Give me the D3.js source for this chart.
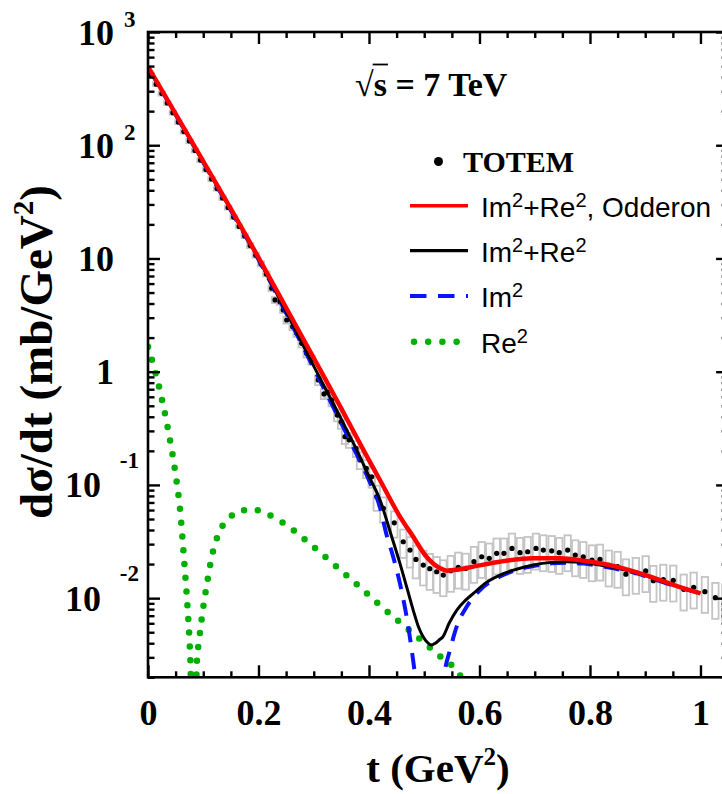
<!DOCTYPE html>
<html><head><meta charset="utf-8">
<script src="https://cdn.jsdelivr.net/npm/d3@7"></script>
<style>body{margin:0;background:#fff}svg{display:block}</style>
</head><body>
<svg id="chart" width="722" height="794"></svg>
<script>
// ---------- data ----------
const xMajorTicks = [0, 0.2, 0.4, 0.6, 0.8, 1.0];
const xTickLabels = ["0", "0.2", "0.4", "0.6", "0.8", "1"];
const yTickValues = [1000, 100, 10, 1, 0.1, 0.01];
const yTickBase = ["10", "10", "10", "1", "10", "10"];
const yTickExp = ["3", "2", "", "", "-1", "-2"];

// Im^2+Re^2 with Odderon (red)
const tRed = [0, 0.05, 0.1, 0.15, 0.2, 0.25, 0.3, 0.35, 0.39, 0.42, 0.456, 0.48, 0.504, 0.5285, 0.541, 0.559, 0.589, 0.637, 0.697, 0.746, 0.788, 0.848, 0.909, 0.951, 1.0];
const vRed = [495, 189, 72, 27.4, 10.2, 3.67, 1.32, 0.472, 0.203, 0.110, 0.0525, 0.0349, 0.0232, 0.0184, 0.0175, 0.0178, 0.019, 0.021, 0.0225, 0.0225, 0.0214, 0.019, 0.0155, 0.0131, 0.0110];

// Im^2+Re^2 (black)
const tBlack = [0, 0.05, 0.1, 0.15, 0.2, 0.25, 0.3, 0.35, 0.378, 0.40, 0.42, 0.44, 0.456, 0.47, 0.48, 0.49, 0.498, 0.505, 0.513, 0.52, 0.527, 0.534, 0.545, 0.559, 0.574, 0.589, 0.61, 0.637, 0.667, 0.697, 0.73, 0.758, 0.788, 0.818, 0.848, 0.88, 0.909, 0.951, 1.0];
const vBlack = [495, 187, 71, 27, 9.9, 3.39, 1.12, 0.38, 0.203, 0.119, 0.0736, 0.0363, 0.0203, 0.0117, 0.00785, 0.0055, 0.00457, 0.0041, 0.00385, 0.0040, 0.00427, 0.00457, 0.006, 0.00785, 0.0095, 0.0110, 0.0135, 0.016, 0.018, 0.0196, 0.0207, 0.021, 0.0207, 0.0196, 0.0184, 0.0170, 0.0153, 0.0130, 0.0111];

// Im^2 (blue dashed)
const tBlue = [0, 0.05, 0.1, 0.15, 0.2, 0.25, 0.3, 0.35, 0.378, 0.40, 0.42, 0.432, 0.444, 0.456, 0.468, 0.48, 0.49, 0.50, 0.51, 0.52, 0.53, 0.5376, 0.5466, 0.5587, 0.5768, 0.601, 0.637, 0.667, 0.697, 0.73, 0.758, 0.788, 0.818, 0.848, 0.88, 0.909, 0.951, 1.0];
const vBlue = [493, 186, 70.5, 26.5, 9.8, 3.3, 1.07, 0.35, 0.185, 0.110, 0.063, 0.036, 0.023, 0.0135, 0.0069, 0.0028, 0.0011, 0.00025, 0.000001, 0.00028, 0.0012, 0.00232, 0.00348, 0.0056, 0.0084, 0.0118, 0.0155, 0.0178, 0.0192, 0.0203, 0.0205, 0.0202, 0.0193, 0.0181, 0.0168, 0.0151, 0.0129, 0.0110];

// Re^2 (green dotted)
const tGreen = [0, 0.0205, 0.0362, 0.0489, 0.0585, 0.0664, 0.0719, 0.076, 0.0773, 0.0825, 0.0881, 0.0929, 0.099, 0.1068, 0.1158, 0.1316, 0.1466, 0.167, 0.1931, 0.2166, 0.2395, 0.2606, 0.2992, 0.3379, 0.3759, 0.4139, 0.4525, 0.4905, 0.5298, 0.5497, 0.568, 0.6];
const vGreen = [1.66, 0.718, 0.310, 0.134, 0.0573, 0.0186, 0.00785, 0.00337, 0.00218, 0.0000001, 0.00252, 0.00439, 0.00766, 0.0135, 0.0237, 0.0406, 0.0507, 0.0592, 0.0601, 0.055, 0.048, 0.0408, 0.0285, 0.0196, 0.0135, 0.00919, 0.00632, 0.00442, 0.00304, 0.00256, 0.0020, 0.0015];

// TOTEM data
const tData = [0.005, 0.015, 0.025, 0.035, 0.045, 0.055, 0.065, 0.075, 0.085, 0.095, 0.105, 0.115, 0.125, 0.135, 0.145, 0.155, 0.165, 0.175, 0.185, 0.195,
  0.2045, 0.2142, 0.2239, 0.2299, 0.2389, 0.2449, 0.251, 0.2619, 0.2691, 0.2782, 0.2872, 0.2963, 0.3082, 0.3186, 0.3245, 0.3325, 0.3426, 0.3495, 0.3566, 0.364, 0.3765, 0.3837, 0.395, 0.4049,
  0.414, 0.426, 0.4458, 0.462, 0.4742, 0.485, 0.4983, 0.51, 0.5225, 0.5345, 0.548, 0.5616, 0.575, 0.590, 0.604, 0.6177, 0.6311, 0.6443, 0.6588, 0.6733, 0.6872, 0.7023, 0.7155, 0.7307, 0.7444, 0.7596, 0.7734, 0.7879, 0.8036, 0.8181, 0.834, 0.850, 0.865, 0.883, 0.9008, 0.9146, 0.9327, 0.9508, 0.9696, 0.9877, 1.008, 1.027, 1.045];
const vData = [420, 346, 286, 236, 194, 160, 132, 109, 89.8, 74.0, 61.0, 50.3, 41.4, 34.2, 28.2, 23.2, 19.2, 15.8, 13.0, 10.7,
  9.0, 7.3, 5.47, 4.30, 4.15, 3.51, 2.86, 2.50, 2.18, 1.78, 1.45, 1.27, 0.845, 0.636, 0.66, 0.562, 0.414, 0.36, 0.267, 0.25, 0.210, 0.166, 0.14, 0.118,
  0.0787, 0.0621, 0.0463, 0.0315, 0.0266, 0.0220, 0.0196, 0.0182, 0.0171, 0.0160, 0.0175, 0.0187, 0.0183, 0.0210, 0.0232, 0.0225, 0.0249, 0.0249, 0.0275, 0.0252, 0.0257, 0.0275, 0.0266, 0.0262, 0.0252, 0.0266, 0.0240, 0.0232, 0.0217, 0.0220, 0.0195, 0.0190, 0.0163, 0.0168, 0.0174, 0.01426, 0.0146, 0.01436, 0.01197, 0.01247, 0.0114, 0.0101, 0.0098];
const eData = [0.04, 0.04, 0.04, 0.04, 0.04, 0.04, 0.04, 0.04, 0.04, 0.04, 0.04, 0.04, 0.04, 0.04, 0.04, 0.04, 0.04, 0.04, 0.05, 0.05,
  0.05, 0.05, 0.06, 0.06, 0.06, 0.06, 0.07, 0.07, 0.07, 0.08, 0.08, 0.09, 0.1, 0.1, 0.11, 0.12, 0.12, 0.13, 0.14, 0.15, 0.16, 0.17, 0.18, 0.2,
  0.25, 0.25, 0.26, 0.28, 0.3, 0.32, 0.34, 0.35, 0.35, 0.35, 0.35, 0.35, 0.35, 0.35, 0.35, 0.35, 0.35, 0.35, 0.35, 0.35, 0.35, 0.35, 0.35, 0.35, 0.35, 0.35, 0.35, 0.35, 0.35, 0.35, 0.35, 0.35, 0.35, 0.35, 0.35, 0.35, 0.35, 0.35, 0.35, 0.35, 0.35, 0.35, 0.35];

const legendLabels = ["TOTEM", "Im²+Re², Odderon", "Im²+Re²", "Im²", "Re²"];

// ---------- drawing ----------
const svg = d3.select("#chart");
const x = d3.scaleLinear().domain([0, 1.05]).range([148, 728.1]);
const y = d3.scaleLog().domain([0.002, 1000]).range([677.3, 32]);
const [X0, X1] = x.range();
const [Y0, Y1] = y.range();
const serif = "'Liberation Serif','Times New Roman',Times,serif";
const sans = "'Liberation Sans',Arial,Helvetica,sans-serif";

svg.append("defs").append("clipPath").attr("id", "clip")
  .append("rect").attr("x", X0).attr("y", Y1).attr("width", X1 - X0).attr("height", Y0 - Y1);

const plot = svg.append("g").attr("clip-path", "url(#clip)");

// error boxes
const idx = d3.range(tData.length);
plot.append("g").selectAll("rect").data(idx).join("rect")
  .attr("x", i => x(tData[i]) - 3.2)
  .attr("width", 6.4)
  .attr("y", i => y(vData[i] * (1 + eData[i])))
  .attr("height", i => y(vData[i] * (1 - eData[i])) - y(vData[i] * (1 + eData[i])))
  .attr("fill", "none").attr("stroke", "#c4c4c4").attr("stroke-width", 1.8);

// data points
plot.append("g").selectAll("circle").data(idx).join("circle")
  .attr("cx", i => x(tData[i])).attr("cy", i => y(vData[i])).attr("r", 2.6).attr("fill", "#000");

const line = (ts, vs) => d3.line().curve(d3.curveMonotoneX)
  .x(i => x(ts[i])).y(i => y(vs[i]))(d3.range(ts.length));

plot.append("path").attr("d", line(tGreen, vGreen)).attr("fill", "none")
  .attr("stroke", "#00b000").attr("stroke-width", 6.5).attr("stroke-linecap", "round")
  .attr("stroke-dasharray", "0 13.8");
plot.append("path").attr("d", line(tBlue, vBlue)).attr("fill", "none")
  .attr("stroke", "#0a14ff").attr("stroke-width", 4).attr("stroke-dasharray", "16 11");
plot.append("path").attr("d", line(tBlack, vBlack)).attr("fill", "none")
  .attr("stroke", "#000").attr("stroke-width", 3);
plot.append("path").attr("d", line(tRed, vRed)).attr("fill", "none")
  .attr("stroke", "#ff0000").attr("stroke-width", 4.5);

// ---------- axes ----------
const xMinor = d3.range(0, 21).map(k => k * 0.05).filter(v => !xMajorTicks.some(m => Math.abs(m - v) < 1e-9));
const yMinor = [];
for (let e = -3; e <= 2; e++) for (let k = 2; k <= 9; k++) {
  const v = k * Math.pow(10, e);
  if (v >= 0.002 && v < 1000) yMinor.push(v);
}
function styleAxis(g) {
  g.select(".domain").remove();
  g.selectAll(".tick line").attr("stroke", "#000").attr("stroke-width", 2.4);
}
svg.append("g").attr("transform", `translate(0,${Y0})`)
  .call(d3.axisBottom(x).tickValues(xMajorTicks).tickSize(-12).tickPadding(22)
    .tickFormat((d, i) => xTickLabels[i]))
  .call(styleAxis)
  .call(g => g.selectAll("text").attr("font-family", serif).attr("font-weight", "bold")
    .attr("font-size", 36).attr("fill", "#000").attr("dy", "0.72em"));
svg.append("g").attr("transform", `translate(0,${Y0})`)
  .call(d3.axisBottom(x).tickValues(xMinor).tickSize(-6).tickFormat("")).call(styleAxis);
svg.append("g").attr("transform", `translate(0,${Y1})`)
  .call(d3.axisTop(x).tickValues(xMajorTicks).tickSize(-12).tickFormat("")).call(styleAxis);
svg.append("g").attr("transform", `translate(0,${Y1})`)
  .call(d3.axisTop(x).tickValues(xMinor).tickSize(-6).tickFormat("")).call(styleAxis);
svg.append("g").attr("transform", `translate(${X0},0)`)
  .call(d3.axisLeft(y).tickValues(yTickValues).tickSize(-12).tickFormat("")).call(styleAxis);
svg.append("g").attr("transform", `translate(${X0},0)`)
  .call(d3.axisLeft(y).tickValues(yMinor).tickSize(-6.5).tickFormat("")).call(styleAxis);
svg.append("g").attr("transform", `translate(${X1},0)`)
  .call(d3.axisRight(y).tickValues(yTickValues).tickSize(-12).tickFormat("")).call(styleAxis);
svg.append("g").attr("transform", `translate(${X1},0)`)
  .call(d3.axisRight(y).tickValues(yMinor).tickSize(-6.5).tickFormat("")).call(styleAxis);

// frame
svg.append("rect").attr("x", X0).attr("y", Y1).attr("width", X1 - X0).attr("height", Y0 - Y1)
  .attr("fill", "none").attr("stroke", "#000").attr("stroke-width", 2.6);

// y tick labels
const yl = svg.append("g").attr("font-family", serif).attr("font-weight", "bold").attr("fill", "#000");
yTickValues.forEach((v, i) => {
  const yy = y(v);
  const neg = yTickExp[i].startsWith("-");
  yl.append("text").attr("x", neg ? 101 : 114).attr("y", yy + 12.5).attr("text-anchor", "end")
    .attr("font-size", 36).text(yTickBase[i]);
  if (yTickExp[i]) {
    yl.append("text").attr("x", neg ? 139 : 124).attr("y", neg ? yy - 17 : yy - 5)
      .attr("text-anchor", neg ? "end" : "start").attr("font-size", 23).text(yTickExp[i]);
  }
});

// axis titles
const xt = svg.append("text").attr("x", 438).attr("y", 782).attr("text-anchor", "middle")
  .attr("font-family", serif).attr("font-weight", "bold").attr("font-size", 41).attr("fill", "#000");
xt.append("tspan").text("t (GeV");
xt.append("tspan").attr("font-size", 25).attr("dy", -17).text("2");
xt.append("tspan").attr("dy", 17).text(")");

const ytl = svg.append("text").attr("transform", "translate(52,352) rotate(-90)").attr("text-anchor", "middle")
  .attr("font-family", serif).attr("font-weight", "bold").attr("font-size", 47).attr("fill", "#000");
ytl.append("tspan").text("dσ/dt (mb/GeV");
ytl.append("tspan").attr("font-size", 29).attr("dy", -19).text("2");
ytl.append("tspan").attr("dy", 19).text(")");

// sqrt(s) annotation
const ann = svg.append("text").attr("x", 355).attr("y", 96)
  .attr("font-family", serif).attr("font-weight", "bold").attr("font-size", 34).attr("fill", "#000")
  .text("√s = 7 TeV");
{
  const n = ann.node();
  const s0 = n.getStartPositionOfChar(1).x, s1 = n.getEndPositionOfChar(1).x;
  svg.append("line").attr("x1", s0 - 1).attr("x2", s1 + 1).attr("y1", 64.5).attr("y2", 64.5)
    .attr("stroke", "#000").attr("stroke-width", 1.8);
}

// legend
const lg = svg.append("g");
lg.append("circle").attr("cx", 438.5).attr("cy", 161.5).attr("r", 4.5).attr("fill", "#000");
lg.append("text").attr("x", 463).attr("y", 171.5).attr("font-family", serif).attr("font-weight", "bold")
  .attr("font-size", 30).attr("fill", "#000").text(legendLabels[0]);

const legRows = [
  {yy: 205.7, color: "#ff0000", w: 3.4, dash: null, cap: "butt"},
  {yy: 250.7, color: "#000", w: 3.2, dash: null, cap: "butt"},
  {yy: 296, color: "#0a14ff", w: 4, dash: "16.5 11.5", cap: "butt"},
  {yy: 341.7, color: "#00b000", w: 6.5, dash: "0 14.2", cap: "round"}
];
legRows.forEach((r, i) => {
  lg.append("line").attr("x1", r.cap === "round" ? 414 : 410).attr("x2", 468).attr("y1", r.yy).attr("y2", r.yy)
    .attr("stroke", r.color).attr("stroke-width", r.w).attr("stroke-linecap", r.cap)
    .attr("stroke-dasharray", r.dash);
  const t = lg.append("text").attr("x", 481).attr("y", r.yy + 11).attr("font-family", sans)
    .attr("font-size", 28).attr("fill", "#000");
  const parts = legendLabels[i + 1].split("²");
  parts.forEach((p, k) => {
    if (p) t.append("tspan").attr("dy", k > 0 ? 10 : null).text(p);
    if (k < parts.length - 1) t.append("tspan").attr("font-size", 20).attr("dy", -10).text("2");
  });
});
</script>
</body></html>
